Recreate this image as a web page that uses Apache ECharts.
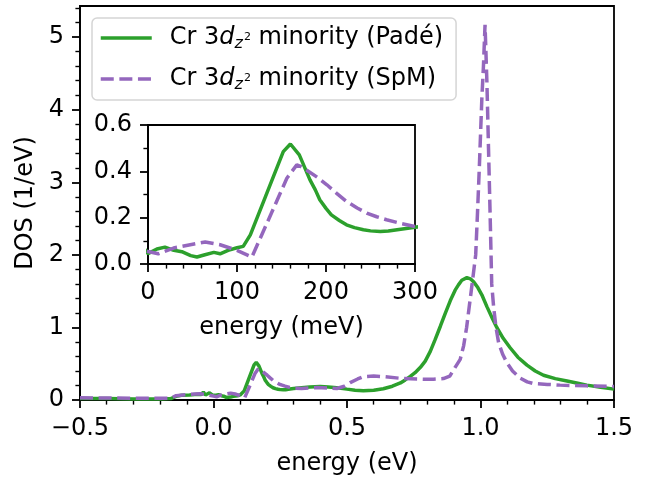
<!DOCTYPE html>
<html>
<head>
<meta charset="utf-8">
<script src="https://cdn.jsdelivr.net/npm/echarts@6/dist/echarts.min.js"></script>
<style>
  html, body { margin: 0; padding: 0; background: #fff; }
  #chart { width: 665px; height: 481px; }
</style>
</head>
<body>
<div id="chart"></div>
<script>
// --- Padé continuation, Cr 3d_z2 minority (energy in eV, DOS in 1/eV) ---
const energyPade = [-0.5, -0.4, -0.3, -0.2, -0.16, -0.14, -0.12, -0.09, -0.06, -0.045, -0.038, -0.03, -0.015, -0.005,
  0.0, 0.010, 0.019, 0.029, 0.038, 0.048, 0.055, 0.064, 0.074, 0.081, 0.090, 0.100, 0.107, 0.115, 0.132, 0.152,
  0.160, 0.170, 0.182, 0.188, 0.193, 0.200, 0.206, 0.215, 0.223, 0.232, 0.242, 0.250, 0.261, 0.270, 0.280, 0.300,
  0.330, 0.360, 0.400, 0.430, 0.462, 0.500, 0.530, 0.561, 0.600, 0.636, 0.670, 0.700, 0.718, 0.737, 0.755, 0.775,
  0.793, 0.812, 0.830, 0.850, 0.868, 0.887, 0.905, 0.918, 0.930, 0.949, 0.962, 0.975, 0.990, 1.005, 1.024, 1.045,
  1.061, 1.085, 1.111, 1.140, 1.174, 1.205, 1.236, 1.280, 1.324, 1.360, 1.398, 1.450, 1.500];
const dosPade = [0.02, 0.02, 0.015, 0.015, 0.02, 0.05, 0.065, 0.07, 0.08, 0.075, 0.11, 0.07, 0.10, 0.07,
  0.045, 0.065, 0.073, 0.059, 0.053, 0.036, 0.030, 0.040, 0.050, 0.044, 0.059, 0.070, 0.076, 0.126, 0.291, 0.485,
  0.518, 0.471, 0.363, 0.320, 0.277, 0.240, 0.212, 0.188, 0.169, 0.157, 0.148, 0.143, 0.140, 0.142, 0.148, 0.159,
  0.170, 0.180, 0.186, 0.180, 0.170, 0.150, 0.135, 0.127, 0.135, 0.155, 0.190, 0.235, 0.277, 0.325, 0.377, 0.450,
  0.536, 0.670, 0.832, 1.020, 1.195, 1.370, 1.514, 1.590, 1.650, 1.686, 1.670, 1.625, 1.550, 1.450, 1.287, 1.120,
  1.000, 0.850, 0.720, 0.590, 0.480, 0.400, 0.341, 0.295, 0.263, 0.235, 0.205, 0.175, 0.150];

// --- SpM continuation ---
const energySpm = [-0.5, -0.3, -0.16, -0.14, -0.10, -0.05, -0.02, 0.0, 0.0115, 0.0287, 0.0475, 0.0643, 0.081, 0.100,
  0.1167, 0.137, 0.156, 0.1672, 0.172, 0.1784, 0.190, 0.201, 0.212, 0.223, 0.235, 0.2458, 0.257, 0.268, 0.285,
  0.300, 0.330, 0.387, 0.430, 0.462, 0.490, 0.512, 0.540, 0.561, 0.600, 0.636, 0.711, 0.786, 0.824, 0.861, 0.885,
  0.905, 0.924, 0.937, 0.948, 0.960, 0.972, 0.982, 0.989, 0.996, 1.005, 1.011, 1.017, 1.024, 1.030, 1.036, 1.042,
  1.049, 1.058, 1.068, 1.083, 1.099, 1.120, 1.149, 1.175, 1.198, 1.250, 1.298, 1.398, 1.500];
const dosSpm = [0.03, 0.025, 0.025, 0.06, 0.075, 0.085, 0.07, 0.054, 0.044, 0.069, 0.083, 0.095, 0.083, 0.059,
  0.030, 0.205, 0.37, 0.428, 0.420, 0.405, 0.375, 0.342, 0.305, 0.270, 0.242, 0.220, 0.204, 0.191, 0.174,
  0.162, 0.158, 0.172, 0.165, 0.158, 0.19, 0.24, 0.29, 0.322, 0.33, 0.322, 0.295, 0.286, 0.286, 0.295, 0.33,
  0.45, 0.56, 0.75, 1.0, 1.35, 1.7, 2.0, 2.6, 3.24, 4.15, 4.6, 5.17, 4.38, 3.47, 2.56, 1.60,
  1.29, 1.0, 0.786, 0.63, 0.513, 0.40, 0.30, 0.25, 0.227, 0.215, 0.205, 0.195, 0.186];

// --- ticks ---
const yTicksMain = [0, 1, 2, 3, 4, 5];
const yMaxMain = 5.43;
const xTicksInset = [0, 100, 200, 300];
const yTicksInset = [0, 0.2, 0.4, 0.6];

const GREEN = '#2ca02c';
const PURPLE = '#9467bd';
const FONT = 'DejaVu Sans';
const FS = 24;

// minor y ticks of the main plot every 0.2
const yMinorMain = [];
for (let v = 0.2; v < yMaxMain; v += 0.2) {
  const r = Math.round(v * 10) / 10;
  if (Math.abs(r - Math.round(r)) > 1e-6) yMinorMain.push(r);
}

const pairs = (xs, ys, k) => xs.map((x, i) => [x * k, ys[i]]);

const fmtDec = v => (v < 0 ? '\u2212' : '') + Math.abs(v).toFixed(1);

const tickStyle = { color: '#000', width: 1.8 };
const minorStyle = { color: '#000', width: 1.4 };
const labelStyle = { fontFamily: FONT, fontSize: FS, color: '#000' };

const chart = echarts.init(document.getElementById('chart'));

const option = {
  animation: false,
  backgroundColor: '#fff',
  textStyle: { fontFamily: FONT },
  grid: [
    { left: 80, top: 6, right: 51, bottom: 77, show: true, borderColor: '#000', borderWidth: 1.8, backgroundColor: '#fff' },
    { left: 148, top: 125, width: 267, height: 139, show: true, borderColor: '#000', borderWidth: 1.8, backgroundColor: '#fff', z: 5 }
  ],
  legend: {
    left: 92,
    top: 18,
    orient: 'vertical',
    data: ['Padé', 'SpM'],
    itemWidth: 51,
    itemHeight: 14,
    itemGap: 15,
    padding: [8, 13, 7, 7],
    borderColor: '#d5d5d5',
    borderWidth: 1.5,
    borderRadius: 5,
    backgroundColor: 'rgba(255,255,255,0.8)',
    selectedMode: false,
    z: 20,
    itemStyle: { opacity: 0 },
    lineStyle: { width: 3.5 },
    formatter: name => '{n|Cr 3}{i|d}{z|z}{s|2}{n| minority (' + name + ')}',
    textStyle: {
      padding: [0, 0, 0, 13],
      color: '#000',
      rich: {
        n: { fontFamily: FONT, fontSize: FS, color: '#000', lineHeight: 30 },
        i: { fontFamily: FONT, fontSize: FS, fontStyle: 'italic', color: '#000', lineHeight: 30 },
        z: { fontFamily: FONT, fontSize: 16, fontStyle: 'italic', color: '#000', padding: [12, 0, 0, 0] },
        s: { fontFamily: FONT, fontSize: 11, color: '#000', padding: [0, 0, 2, 1] }
      }
    }
  },
  xAxis: [
    {
      type: 'value', gridIndex: 0, min: -0.5, max: 1.5, interval: 0.5,
      axisLine: { onZero: false, lineStyle: tickStyle },
      axisTick: { length: 8, lineStyle: tickStyle },
      minorTick: { show: true, splitNumber: 5, length: 4.6, lineStyle: minorStyle },
      splitLine: { show: false },
      axisLabel: Object.assign({ margin: 17, showMinLabel: true, showMaxLabel: true, formatter: fmtDec }, labelStyle),
      name: 'energy (eV)', nameLocation: 'middle', nameGap: 52, nameTextStyle: labelStyle
    },
    {
      type: 'value', gridIndex: 1, min: 0, max: 300, interval: 100, z: 6,
      axisLine: { onZero: false, lineStyle: tickStyle },
      axisTick: { length: 8, lineStyle: tickStyle },
      minorTick: { show: true, splitNumber: 5, length: 4.6, lineStyle: minorStyle },
      splitLine: { show: false },
      axisLabel: Object.assign({ margin: 17, showMinLabel: true, showMaxLabel: true }, labelStyle),
      name: 'energy (meV)', nameLocation: 'middle', nameGap: 52, nameTextStyle: labelStyle
    }
  ],
  yAxis: [
    {
      type: 'value', gridIndex: 0, min: 0, max: yMaxMain, position: 'left',
      axisLine: { onZero: false, lineStyle: tickStyle },
      axisTick: { length: 8, lineStyle: tickStyle, customValues: yTicksMain },
      splitLine: { show: false },
      axisLabel: Object.assign({ margin: 16, padding: [7, 0, 0, 0], customValues: yTicksMain }, labelStyle),
      name: 'DOS (1/eV)', nameLocation: 'middle', nameGap: 42, nameTextStyle: labelStyle
    },
    {
      type: 'value', gridIndex: 0, min: 0, max: yMaxMain, position: 'left',
      axisLine: { show: false, onZero: false },
      axisTick: { length: 4.6, lineStyle: minorStyle, customValues: yMinorMain },
      splitLine: { show: false },
      axisLabel: { show: false }
    },
    {
      type: 'value', gridIndex: 1, min: 0, max: 0.6, interval: 0.2, z: 6, position: 'left',
      axisLine: { onZero: false, lineStyle: tickStyle },
      axisTick: { length: 8, lineStyle: tickStyle },
      minorTick: { show: true, splitNumber: 2, length: 4.6, lineStyle: minorStyle },
      splitLine: { show: false },
      axisLabel: Object.assign({ margin: 16, padding: [7, 0, 0, 0], showMinLabel: true, showMaxLabel: true, formatter: v => v.toFixed(1) }, labelStyle)
    }
  ],
  series: [
    {
      name: 'Padé', type: 'line', xAxisIndex: 0, yAxisIndex: 0, showSymbol: false, symbol: 'none', z: 2,
      data: pairs(energyPade, dosPade, 1),
      lineStyle: { color: GREEN, width: 3.5 }, itemStyle: { color: GREEN }
    },
    {
      name: 'SpM', type: 'line', xAxisIndex: 0, yAxisIndex: 0, showSymbol: false, symbol: 'none', z: 3,
      data: pairs(energySpm, dosSpm, 1),
      lineStyle: { color: PURPLE, width: 3.5, type: [13, 5.6] }, itemStyle: { color: PURPLE }
    },
    {
      name: 'Padé', type: 'line', xAxisIndex: 1, yAxisIndex: 2, showSymbol: false, symbol: 'none', z: 7, clip: true,
      data: pairs(energyPade, dosPade, 1000),
      lineStyle: { color: GREEN, width: 3.5 }, itemStyle: { color: GREEN }
    },
    {
      name: 'SpM', type: 'line', xAxisIndex: 1, yAxisIndex: 2, showSymbol: false, symbol: 'none', z: 8, clip: true,
      data: pairs(energySpm, dosSpm, 1000),
      lineStyle: { color: PURPLE, width: 3.5, type: [13, 5.6] }, itemStyle: { color: PURPLE }
    }
  ]
};

chart.setOption(option);
</script>
</body>
</html>
